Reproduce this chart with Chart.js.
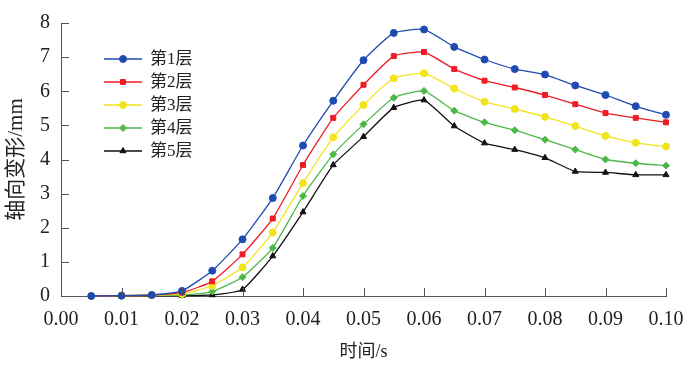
<!DOCTYPE html>
<html>
<head>
<meta charset="utf-8">
<script src="https://cdn.jsdelivr.net/npm/chart.js@4/dist/chart.umd.min.js"></script>
<style>
  html, body { margin: 0; padding: 0; background: #fff; }
  #wrap { width: 700px; height: 367px; }
</style>
</head>
<body>
<div id="wrap"><canvas id="c" width="700" height="367"></canvas></div>
<script>
// Données
const times = [0.005, 0.01, 0.015, 0.02, 0.025, 0.03, 0.035, 0.04, 0.045, 0.05,
               0.055, 0.06, 0.065, 0.07, 0.075, 0.08, 0.085, 0.09, 0.095, 0.10];
const layerNames = ['第1层', '第2层', '第3层', '第4层', '第5层'];
const layer1 = [0, 0.01, 0.03, 0.15, 0.74, 1.66, 2.87, 4.41, 5.72, 6.91, 7.71, 7.81, 7.30, 6.93, 6.65, 6.49, 6.17, 5.89, 5.56, 5.31];
const layer2 = [0, 0.01, 0.03, 0.10, 0.43, 1.22, 2.27, 3.84, 5.22, 6.19, 7.03, 7.15, 6.65, 6.31, 6.11, 5.89, 5.62, 5.36, 5.22, 5.09];
const layer3 = [0, 0.01, 0.02, 0.06, 0.30, 0.84, 1.86, 3.31, 4.65, 5.60, 6.38, 6.53, 6.08, 5.69, 5.48, 5.25, 4.98, 4.69, 4.49, 4.38];
const layer4 = [0, 0.01, 0.02, 0.03, 0.13, 0.55, 1.41, 2.93, 4.15, 5.03, 5.81, 6.01, 5.43, 5.09, 4.86, 4.58, 4.29, 4.00, 3.89, 3.82];
const layer5 = [0, 0.00, 0.01, 0.01, 0.03, 0.19, 1.17, 2.46, 3.84, 4.67, 5.52, 5.74, 4.98, 4.48, 4.29, 4.05, 3.65, 3.62, 3.55, 3.55];
const xTicks = [0, 0.01, 0.02, 0.03, 0.04, 0.05, 0.06, 0.07, 0.08, 0.09, 0.10];
const yTicks = [0, 1, 2, 3, 4, 5, 6, 7, 8];

const colors = ['#1f4ab0', '#ee1c25', '#f2e41c', '#4cb848', '#111111'];
const markers = ['circle', 'rect', 'circle', 'rectRot', 'triangle'];
const allSeries = [layer1, layer2, layer3, layer4, layer5];

const serif = '"Liberation Serif", "Noto Sans CJK SC", serif';
const axisColor = '#555';

// Ticks tournés vers l'intérieur + légende dans la zone du graphique
const innerTicks = {
    id: 'innerTicks',
    afterDraw(chart) {
        const ctx = chart.ctx;
        const x = chart.scales.x, y = chart.scales.y;
        const area = chart.chartArea;
        ctx.save();
        ctx.strokeStyle = axisColor;
        ctx.lineWidth = 1;
        ctx.beginPath();
        xTicks.forEach(v => {
            const px = Math.round(x.getPixelForValue(v)) + 0.5;
            ctx.moveTo(px, area.bottom);
            ctx.lineTo(px, area.bottom - 8);
        });
        yTicks.forEach(v => {
            const py = Math.round(y.getPixelForValue(v)) + 0.5;
            ctx.moveTo(area.left, py);
            ctx.lineTo(area.left + 8, py);
        });
        ctx.stroke();

        // légende
        const lx = area.left + 43, ly = area.top + 36, gap = 23;
        chart.data.datasets.forEach((ds, i) => {
            const cy = ly + i * gap;
            ctx.strokeStyle = ds.borderColor;
            ctx.lineWidth = 1.3;
            ctx.beginPath();
            ctx.moveTo(lx, cy);
            ctx.lineTo(lx + 38, cy);
            ctx.stroke();
            ctx.fillStyle = ds.borderColor;
            ctx.lineWidth = 1;
            Chart.helpers.drawPoint(ctx, {
                pointStyle: ds.pointStyle, radius: 3.5, borderWidth: 1
            }, lx + 19, cy);
            ctx.fillStyle = '#222';
            ctx.font = '17px ' + serif;
            ctx.textBaseline = 'middle';
            ctx.fillText(ds.label, lx + 46, cy + 1);
        });
        ctx.restore();
    }
};

new Chart(document.getElementById('c'), {
    type: 'line',
    data: {
        datasets: allSeries.map((vals, i) => ({
            label: layerNames[i],
            data: times.map((t, j) => ({ x: t, y: vals[j] })),
            borderColor: colors[i],
            backgroundColor: colors[i],
            borderWidth: 1.3,
            pointStyle: markers[i],
            pointRadius: 3.5,
            pointBorderWidth: 1,
            tension: 0.15,
            clip: false
        }))
    },
    options: {
        responsive: false,
        animation: false,
        layout: { padding: { left: 0, right: 34, top: 16, bottom: 0 } },
        plugins: { legend: { display: false }, tooltip: { enabled: false } },
        scales: {
            x: {
                type: 'linear',
                min: 0, max: 0.1,
                afterBuildTicks: s => { s.ticks = xTicks.map(v => ({ value: v })); },
                afterFit: s => { s.height = 71; },
                grid: { display: false, drawTicks: false },
                border: { color: axisColor, width: 1 },
                ticks: {
                    color: '#222',
                    padding: 12,
                    maxRotation: 0,
                    font: { family: serif, size: 20 },
                    callback: v => v.toFixed(2)
                },
                title: {
                    display: true, text: '时间/s', color: '#222',
                    font: { family: serif, size: 18 }, padding: { top: 0 }
                }
            },
            y: {
                min: 0, max: 8,
                afterBuildTicks: s => { s.ticks = yTicks.map(v => ({ value: v })); },
                afterFit: s => { s.width = 61; },
                grid: { display: false, drawTicks: false },
                border: { color: axisColor, width: 1 },
                ticks: {
                    color: '#222',
                    padding: 11,
                    font: { family: serif, size: 20 }
                },
                title: {
                    display: true, text: '轴向变形/mm', color: '#222',
                    font: { family: serif, size: 21 }, padding: { top: 4, bottom: 0 }
                }
            }
        }
    },
    plugins: [innerTicks]
});
</script>
</body>
</html>
